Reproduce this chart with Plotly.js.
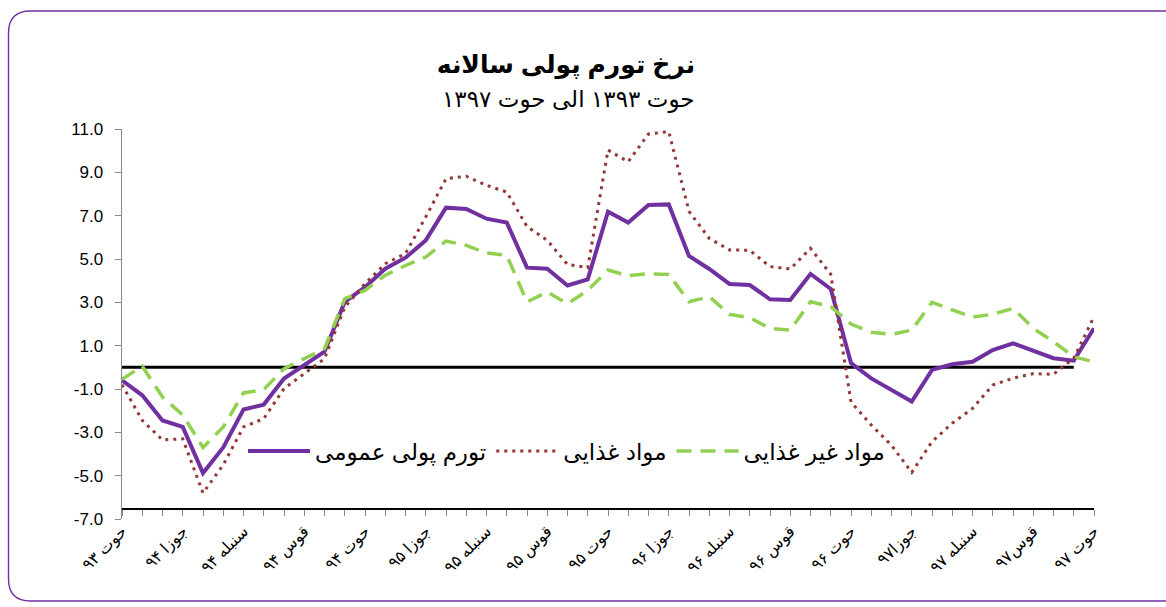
<!DOCTYPE html>
<html>
<head>
<meta charset="utf-8">
<script src="https://cdn.plot.ly/plotly-3.0.1.min.js"></script>
<style>
  html, body { margin: 0; padding: 0; background: #fff; }
  #chart { width: 1166px; height: 607px; }
</style>
</head>
<body>
<div id="chart"></div>
<script>
// Month categories: حوت ۹۳ ... حوت ۹۷ (49 months)
const monthNames = ['حمل','ثور','جوزا','سرطان','اسد','سنبله','میزان','عقرب','قوس','جدی','دلو','حوت'];
const years = ['۹۴','۹۵','۹۶','۹۷'];
const categories = ['حوت ۹۳'];
years.forEach(function (y) { monthNames.forEach(function (m) { categories.push(m + ' ' + y); }); });

// Tick labels shown every third month
const tickLabels = ['حوت ۹۳','جوزا ۹۴','سنبله ۹۴','قوس ۹۴','حوت ۹۴','جوزا ۹۵','سنبله ۹۵','قوس ۹۵',
  'حوت ۹۵','جوزا ۹۶','سنبله ۹۶','قوس ۹۶','حوت ۹۶','جوزا۹۷','سنبله ۹۷','قوس۹۷','حوت ۹۷'];

// تورم پولی عمومی
const general = [-0.60,-1.29,-2.45,-2.75,-4.88,-3.70,-1.95,-1.72,-0.52,0.09,0.72,3.02,3.70,4.55,5.06,5.86,
  7.37,7.31,6.86,6.68,4.60,4.55,3.78,4.06,7.18,6.68,7.49,7.52,5.14,4.54,3.85,3.80,3.14,3.11,4.31,3.62,
  0.20,-0.51,-1.05,-1.58,-0.12,0.14,0.26,0.80,1.11,0.75,0.42,0.31,1.80];

// مواد غذایی
const food = [-0.80,-2.45,-3.35,-3.30,-5.80,-4.50,-2.75,-2.37,-0.98,-0.29,0.40,2.78,3.86,4.78,5.25,6.94,
  8.71,8.82,8.40,8.09,6.50,5.86,4.75,4.60,10.03,9.49,10.77,10.88,7.20,5.95,5.42,5.40,4.65,4.54,5.49,4.30,
  -1.60,-2.66,-3.60,-4.85,-3.43,-2.58,-1.90,-0.82,-0.50,-0.29,-0.32,0.42,2.34];

// مواد غیر غذایی
const nonFood = [-0.55,0.05,-1.37,-2.20,-3.70,-2.75,-1.18,-1.03,-0.06,0.40,0.86,3.17,3.55,4.25,4.70,5.09,
  5.83,5.63,5.28,5.17,3.02,3.48,2.94,3.55,4.49,4.23,4.32,4.29,3.03,3.26,2.45,2.29,1.80,1.72,3.03,2.80,
  2.00,1.62,1.52,1.72,3.00,2.65,2.32,2.45,2.72,1.80,1.18,0.49,0.25];

// Reference (zero) series, 48 months
const baseline = [0,0,0,0,0,0,0,0,0,0,0,0,0,0,0,0,0,0,0,0,0,0,0,0,0,0,0,0,0,0,0,0,0,0,0,0,0,0,0,0,0,0,0,0,0,0,0,0];

const seriesNames = ['تورم پولی عمومی', 'مواد غذایی', 'مواد غیر غذایی'];
const yTicks = [-7, -5, -3, -1, 1, 3, 5, 7, 9, 11];
const yTickText = ['-7.0', '-5.0', '-3.0', '-1.0', '1.0', '3.0', '5.0', '7.0', '9.0', '11.0'];

const arFont = 'Arial, "DejaVu Sans", sans-serif';
const numFont = 'Arial, "Liberation Sans", sans-serif';

const traces = [
  { x: categories.slice(0, baseline.length), y: baseline, type: 'scatter', mode: 'lines',
    line: { color: '#000000', width: 3 }, showlegend: false, hoverinfo: 'skip' },
  { x: categories, y: general, name: seriesNames[0], type: 'scatter', mode: 'lines',
    line: { color: '#7030A0', width: 4 } },
  { x: categories, y: food, name: seriesNames[1], type: 'scatter', mode: 'lines',
    line: { color: '#953735', width: 3, dash: '3px,5px' } },
  { x: categories, y: nonFood, name: seriesNames[2], type: 'scatter', mode: 'lines',
    line: { color: '#92D050', width: 3.5, dash: '15px,9px' } }
];

const tickText = categories.map(function (c, i) { return i % 3 === 0 ? tickLabels[i / 3] : ''; });

// frame (rounded border) in paper coords
const px2x = function (p) { return (p - 122) / 972; };
const py2y = function (p) { return (519 - p) / 390; };
const L = px2x(8.5), R = px2x(1185), T = py2y(11), B = py2y(601);
const rx = 22 / 972, ry = 22 / 390;
const framePath = 'M ' + R + ',' + T + ' L ' + (L + rx) + ',' + T + ' Q ' + L + ',' + T + ' ' + L + ',' + (T - ry) +
  ' L ' + L + ',' + (B + ry) + ' Q ' + L + ',' + B + ' ' + (L + rx) + ',' + B + ' L ' + R + ',' + B;

const layout = {
  width: 1166, height: 607,
  margin: { l: 122, r: 72, t: 129, b: 88 },
  paper_bgcolor: '#ffffff', plot_bgcolor: 'rgba(0,0,0,0)',
  font: { family: arFont, color: '#000' },
  showlegend: true,
  title: {
    text: '<b>نرخ تورم پولی سالانه</b>',
    font: { family: arFont, size: 25, color: '#000' },
    x: 566 / 1166, xanchor: 'center', xref: 'container',
    y: 1 - 64 / 607, yanchor: 'middle', yref: 'container'
  },
  annotations: [
    { text: 'حوت ۱۳۹۳ الی حوت ۱۳۹۷', xref: 'paper', yref: 'paper',
      x: px2x(568), y: py2y(99), xanchor: 'center', yanchor: 'middle', showarrow: false,
      font: { family: arFont, size: 23, color: '#000' } }
  ],
  xaxis: {
    type: 'category', range: [0, categories.length - 1],
    tickmode: 'array', tickvals: categories, ticktext: tickText,
    tickangle: -45, tickfont: { family: arFont, size: 16, color: '#000' },
    ticks: 'outside', ticklen: 6, tickcolor: '#888', tickwidth: 1,
    showline: true, linecolor: '#000', linewidth: 1.5,
    showgrid: false, zeroline: false,
    anchor: 'free', position: 0.5 / 18
  },
  yaxis: {
    range: [-7, 11], tickmode: 'array', tickvals: yTicks, ticktext: yTickText,
    tickfont: { family: numFont, size: 17, color: '#000' },
    ticks: 'outside', ticklen: 6, tickcolor: '#888', tickwidth: 1,
    showline: true, linecolor: '#888', linewidth: 1.5,
    showgrid: false, zeroline: false, ticklabelstandoff: 8
  },
  legend: {
    orientation: 'h', x: px2x(243), y: py2y(451), xanchor: 'left', yanchor: 'middle',
    bgcolor: 'rgba(0,0,0,0)', font: { family: arFont, size: 23, color: '#000' },
    itemwidth: 62
  },
  shapes: [
    { type: 'path', xref: 'paper', yref: 'paper', path: framePath,
      line: { color: '#7030A0', width: 1.4 }, fillcolor: 'rgba(0,0,0,0)' }
  ]
};

Plotly.newPlot('chart', traces, layout, { displayModeBar: false, staticPlot: true });
</script>
</body>
</html>
